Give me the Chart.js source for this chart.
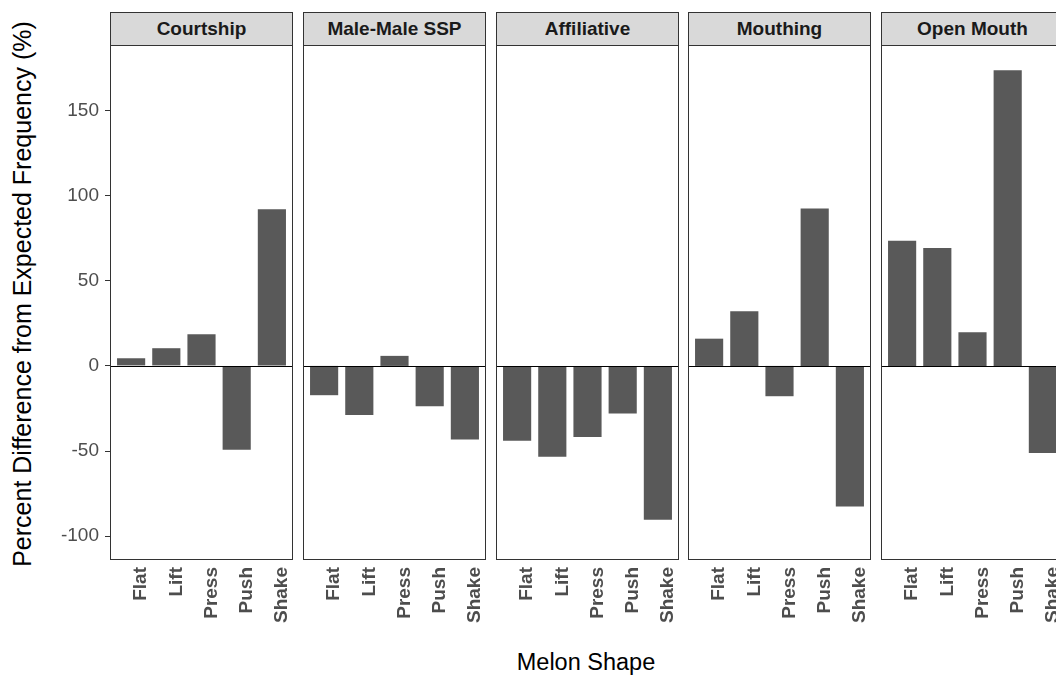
<!DOCTYPE html>
<html>
<head>
<meta charset="utf-8">
<script src="https://cdn.jsdelivr.net/npm/chart.js@4.4.1/dist/chart.umd.min.js"></script>
<style>
  html, body { margin: 0; padding: 0; background: #fff; overflow: hidden; }
  #wrap { position: relative; width: 1056px; height: 676px; overflow: hidden;
          font-family: 'Liberation Sans', Arial, sans-serif; }
  #wrap canvas { position: absolute; }
  .strip { position: absolute; top: 12px; height: 34px; box-sizing: border-box;
           background: #d9d9d9; border: 1px solid #333; color: #1a1a1a;
           font-weight: bold; font-size: 19px; line-height: 32px; text-align: center;
           white-space: nowrap; }
  #ytitle { position: absolute; left: -278px; top: 280px; width: 600px; height: 28px;
            line-height: 28px; font-size: 25px; text-align: center; color: #000;
            transform: rotate(-90deg); white-space: nowrap; }
  #xtitle { position: absolute; left: 386px; top: 649px; width: 400px; height: 26px;
            line-height: 26px; font-size: 23.5px; text-align: center; color: #000; }
</style>
</head>
<body>
<div id="wrap">
  <div id="ytitle">Percent Difference from Expected Frequency (%)</div>
  <div id="xtitle">Melon Shape</div>
</div>
<script>
// melon shapes (x categories) and behaviour panels
const shapes = ['Flat', 'Lift', 'Press', 'Push', 'Shake'];
const behaviours = ['Courtship', 'Male-Male SSP', 'Affiliative', 'Mouthing', 'Open Mouth'];

// percent difference from expected frequency, one array per panel
const courtship   = [4.5, 10.4, 18.6, -49.3, 92.0];
const maleMaleSSP = [-17.2, -28.8, 5.9, -23.7, -43.2];
const affiliative = [-44.0, -53.4, -41.7, -28.0, -90.4];
const mouthing    = [16.0, 32.1, -17.8, 92.5, -82.6];
const openMouth   = [73.5, 69.2, 19.8, 173.7, -51.2];

const yTicks = [-100, -50, 0, 50, 100, 150];

const panelValues = [courtship, maleMaleSSP, affiliative, mouthing, openMouth];

const FONT = "'Liberation Sans', Arial, sans-serif";
const panelLefts = [110, 303, 496, 688, 881];
const panelW = 183;
const plotTop = 45;
const plotH = 515;
const yAxisW = 110;

// panel border + zero reference line
const panelFrame = {
  id: 'panelFrame',
  afterDatasetsDraw(chart) {
    const { ctx, chartArea: a, scales } = chart;
    const y0 = Math.round(scales.y.getPixelForValue(0)) + 0.5;
    ctx.save();
    ctx.strokeStyle = '#000';
    ctx.lineWidth = 1;
    ctx.beginPath();
    ctx.moveTo(a.left, y0);
    ctx.lineTo(a.right, y0);
    ctx.stroke();
    ctx.strokeStyle = '#333';
    ctx.strokeRect(a.left + 0.5, a.top + 0.5, a.width - 1, a.height - 1);
    ctx.restore();
  }
};

const wrap = document.getElementById('wrap');

behaviours.forEach((name, i) => {
  const first = i === 0;
  const left = panelLefts[i];

  const strip = document.createElement('div');
  strip.className = 'strip';
  strip.style.left = left + 'px';
  strip.style.width = panelW + 'px';
  strip.textContent = name;
  wrap.appendChild(strip);

  const canvas = document.createElement('canvas');
  canvas.width = panelW + (first ? yAxisW : 0);
  canvas.height = 676 - plotTop;
  canvas.style.left = (first ? left - yAxisW : left) + 'px';
  canvas.style.top = plotTop + 'px';
  wrap.appendChild(canvas);

  new Chart(canvas.getContext('2d'), {
    type: 'bar',
    data: {
      datasets: [{
        data: panelValues[i].map((v, k) => ({ x: k + 1, y: v })),
        backgroundColor: '#595959',
        borderWidth: 0,
        categoryPercentage: 1,
        barPercentage: 0.8
      }]
    },
    options: {
      responsive: false,
      animation: false,
      layout: { padding: 0 },
      plugins: {
        legend: { display: false },
        tooltip: { enabled: false }
      },
      scales: {
        x: {
          type: 'linear',
          offset: false,
          min: 0.4,
          max: 5.6,
          grid: { display: false, drawTicks: false },
          border: { display: false },
          afterBuildTicks: s => { s.ticks = shapes.map((c, k) => ({ value: k + 1 })); },
          afterFit: s => {
            s.height = canvas.height - plotH;
            s.paddingLeft = 0; s.paddingRight = 0;
          },
          ticks: {
            autoSkip: false,
            minRotation: 90,
            maxRotation: 90,
            labelOffset: 10,
            padding: 7,
            color: '#4d4d4d',
            font: { family: FONT, size: 19, weight: 'bold' },
            callback: v => shapes[Math.round(v) - 1]
          }
        },
        y: {
          display: first,
          min: -114,
          max: 188.5,
          afterBuildTicks: s => { s.ticks = yTicks.map(v => ({ value: v })); },
          afterFit: s => {
            if (first) s.width = yAxisW;
            s.paddingTop = 0; s.paddingBottom = 0;
          },
          grid: {
            drawOnChartArea: false,
            drawTicks: true,
            tickLength: 5,
            color: '#333'
          },
          border: { display: false },
          ticks: {
            padding: 6,
            color: '#4d4d4d',
            font: { family: FONT, size: 19 }
          }
        }
      }
    },
    plugins: [panelFrame]
  });
});
</script>
</body>
</html>
